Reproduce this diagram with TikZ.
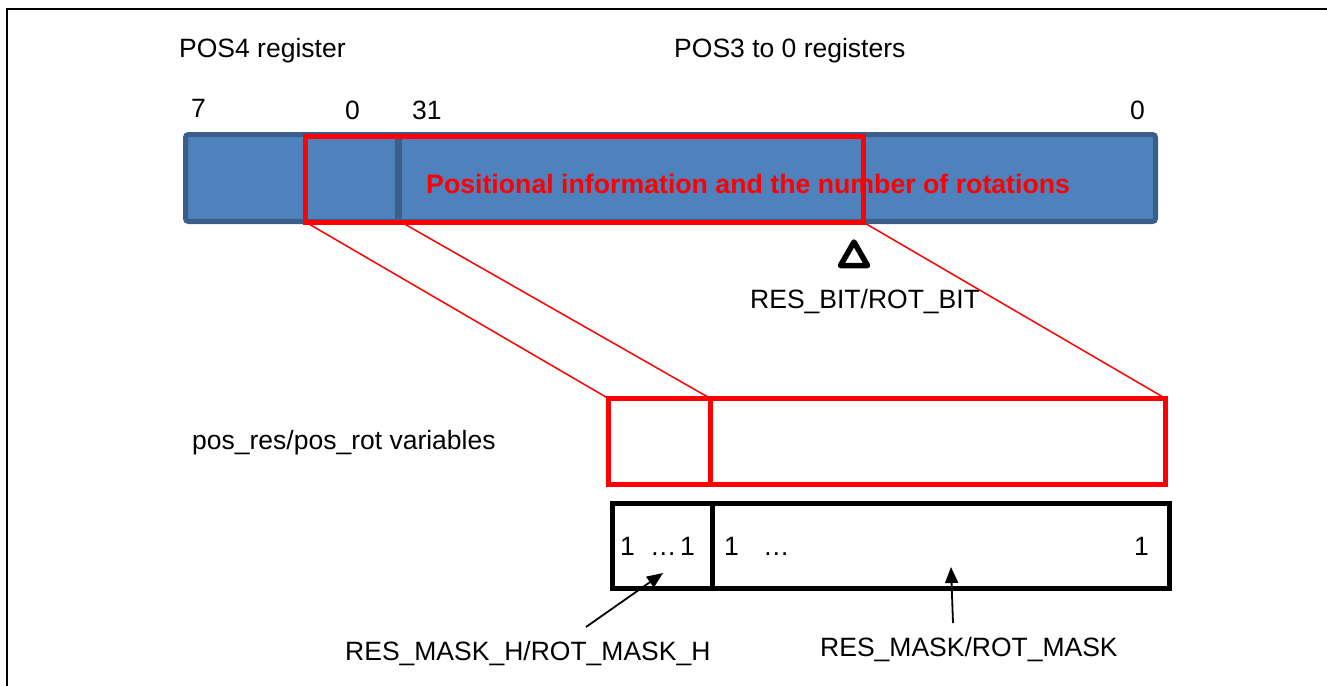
\documentclass[tikz,border=0pt]{standalone}
\usepackage{fontspec}
\setmainfont{Liberation Sans}
\usetikzlibrary{arrows.meta}
\definecolor{barblue}{HTML}{4F81BD}
\definecolor{baredge}{HTML}{3A5F8B}
\definecolor{hired}{HTML}{FF0000}
\tikzset{
  lbl/.style={inner sep=0pt, anchor=base west, font=\fontsize{26.5}{30}\selectfont},
  cell/.style={draw, inner sep=0pt, outer sep=0pt, line width=5pt, anchor=north west},
  redcell/.style={cell, draw=hired},
  blkcell/.style={cell, draw=black},
  fan/.style={draw=hired, line width=1.5pt},
  pointer/.style={draw=black, line width=1.8pt, -{Triangle[length=16pt,width=13pt]}},
}
\begin{document}
\begin{tikzpicture}[x=1pt,y=-1pt]
\useasboundingbox (0,0) rectangle (1327,685);
% frame
\draw[line width=2.5pt] (7,690) -- (7,9) -- (1330,9);

% titles and bit numbers
\node[lbl] (pos4) at (179,57) {POS4 register};
\node[lbl] (pos30) at (674,57) {POS3 to 0 registers};
\node[lbl] (b7) at (191,117) {7};
\node[lbl] (b0a) at (345,119) {0};
\node[lbl] (b31) at (412,119) {31};
\node[lbl] (b0b) at (1130,119) {0};

% register bar
\node[draw=baredge, fill=barblue, line width=5pt, rounded corners=3pt, inner sep=0pt,
      minimum width=970pt, minimum height=87pt] (bar) at (670.5,178) {};
\draw[baredge, line width=7pt] (398.5,137) -- (398.5,219);
\node[draw=hired, line width=5pt, inner sep=0pt, outer sep=0pt, minimum width=557.5pt, minimum height=86pt]
      (win) at (584.25,179) {};
\node[lbl, font=\bfseries\fontsize{26.7}{30}\selectfont, text=hired] (info) at (426,193)
      {Positional information and the number of rotations};

% RES_BIT marker
\draw[line width=5.5pt, line join=round] (854,242) -- (840.5,265.5) -- (867.5,265.5) -- cycle;
\node[lbl] (resbit) at (750,308) {RES\_BIT/ROT\_BIT};

% variables
\node[lbl] (vars) at (192,449) {pos\_res/pos\_rot variables};
\node[redcell, minimum width=102pt, minimum height=86pt] (lowL) at (608.5,398.5) {};
\node[redcell, minimum width=455pt, minimum height=86pt] (lowR) at (710.5,398.5) {};

% fan lines
\coordinate (d1) at (401,222);
\draw[fan] (win.south west) -- (lowL.north west);
\draw[fan] (d1) -- (lowR.north west);
\draw[fan] (win.south east) -- (lowR.north east);

% masks
\node[blkcell, minimum width=99.5pt, minimum height=85.5pt] (mL) at (612.5,503) {};
\node[blkcell, minimum width=457.5pt, minimum height=85.5pt] (mR) at (712,503) {};
\node[lbl] (l1) at (620,555) {1};
\node[lbl] (ld) at (650,555) {…};
\node[lbl] (l2) at (680,555) {1};
\node[lbl] (r1) at (724,555) {1};
\node[lbl] (rd) at (763,555) {…};
\node[lbl] (r2) at (1134,555) {1};

% pointers
\node[lbl] (maskh) at (345,660) {RES\_MASK\_H/ROT\_MASK\_H};
\node[lbl] (mask) at (820,656) {RES\_MASK/ROT\_MASK};
\coordinate (tailH) at (586,627);
\coordinate (tipH) at (663,573);
\coordinate (tailM) at (953,623);
\coordinate (tipM) at (951,567);
\draw[pointer] (tailH) -- (tipH);
\draw[pointer] (tailM) -- (tipM);
\end{tikzpicture}
\end{document}
